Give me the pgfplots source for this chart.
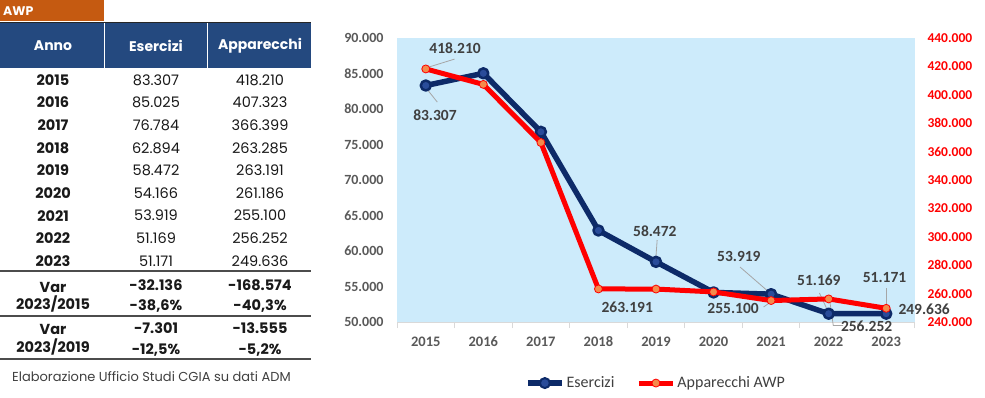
\documentclass[border=0pt]{standalone}
\usepackage{pgfplots}
\pgfplotsset{compat=1.18}
\usepackage{fontspec}
\setmainfont{Poppins}
\newfontfamily\calibri{Carlito}
\definecolor{navy}{HTML}{0D2A68}
\definecolor{navyin}{HTML}{2A4C9A}
\definecolor{orgmk}{HTML}{F58A4B}
\definecolor{plotbg}{HTML}{CDEBFB}
\definecolor{axgray}{HTML}{D9D9D9}
\definecolor{tkgray}{HTML}{595959}
\definecolor{lblgray}{HTML}{404040}
\definecolor{leader}{HTML}{A6A6A6}
\definecolor{tab}{HTML}{C55A11}
\definecolor{hdr}{HTML}{24497F}
\begin{document}
\begin{tikzpicture}
\useasboundingbox (0,0) rectangle (985pt,397pt);
\fill[white] (0,0) rectangle (985pt,397pt);
% ---------------- table ----------------
\begin{scope}[x=1pt,y=-1pt,shift={(0pt,397pt)}]
\fill[tab] (0,0) rectangle (104,21);
\node[anchor=west,text=white,font=\fontsize{12.5}{14}\selectfont\bfseries,inner sep=0] at (3,11.5) {AWP};
\fill[hdr] (0,22) rectangle (311,68);
\draw[line width=1.5pt,black!85] (0,22.5) -- (311,22.5);
\draw[white,line width=1pt] (104,23) -- (104,68);
\draw[white,line width=1pt] (207,23) -- (207,68);
\begin{scope}[every node/.style={font=\fontsize{14}{16}\selectfont\bfseries,text=white,inner sep=0}]
\node at (53,46) {Anno};
\node at (156,46) {Esercizi};
\node at (260,46) {Apparecchi};
\end{scope}
\begin{scope}[every node/.style={font=\fontsize{14.5}{16}\selectfont,text=black!90,inner sep=0}]
\foreach \yr/\e/\a [count=\i from 0] in {2015/83.307/418.210,2016/85.025/407.323,2017/76.784/366.399,2018/62.894/263.285,2019/58.472/263.191,2020/54.166/261.186,2021/53.919/255.100,2022/51.169/256.252,2023/51.171/249.636}{
  \node[font=\fontsize{14.5}{16}\selectfont\bfseries] at (53,{80+22.6*\i}) {\yr};
  \node at (156,{80+22.6*\i}) {\e};
  \node at (260,{80+22.6*\i}) {\a};
}
\end{scope}
\draw[line width=1.5pt,black!70] (0,271) -- (311,271);
\draw[line width=1.5pt,black!70] (0,316) -- (311,316);
\draw[line width=1.5pt,black!70] (0,359) -- (311,359);
\begin{scope}[every node/.style={font=\fontsize{14.5}{16}\selectfont\bfseries,text=black!90,inner sep=0}]
\node at (53,287) {Var};
\node at (53,304) {2023/2015};
\node at (156,285) {-32.136};
\node at (260,285) {-168.574};
\node at (156,306) {-38,6\%};
\node at (260,306) {-40,3\%};
\node at (53,329) {Var};
\node at (53,347) {2023/2019};
\node at (156,328) {-7.301};
\node at (260,328) {-13.555};
\node at (156,350) {-12,5\%};
\node at (260,350) {-5,2\%};
\end{scope}
\node[anchor=west,inner sep=0,font=\fontsize{13}{15}\selectfont,text=lblgray] at (12,377) {Elaborazione Ufficio Studi CGIA su dati ADM};
\end{scope}
% ---------------- chart ----------------
\pgfplotsset{
  base/.style={at={(397pt,75pt)}, anchor=south west, scale only axis, width=518pt, height=284pt,
    xmin=2014.5, xmax=2023.5, clip=false, scaled y ticks=false, scaled x ticks=false,
    /pgf/number format/assume math mode=true},
}
\begin{axis}[base,
  ymin=50000, ymax=90000,
  xtick={2015,...,2023}, minor xtick={2014.5,2015.5,...,2023.5},
  ytick={50000,55000,...,90000},
  axis background/.style={fill=plotbg},
  axis x line*=bottom, axis y line*=left,
  x axis line style={draw=axgray,line width=1pt,-},
  y axis line style={draw=none},
  major tick length=0pt, minor tick length=6pt, tick align=outside,
  minor x tick style={draw=axgray,line width=1pt},
  ytick style={draw=none},
  xticklabel style={font=\fontsize{14.5}{16}\calibri\bfseries,text=tkgray,/pgf/number format/fixed,/pgf/number format/1000 sep={},yshift=-11pt},
  yticklabel style={font=\fontsize{14}{15}\calibri\bfseries,text=tkgray,/pgf/number format/fixed,/pgf/number format/1000 sep={.},xshift=-10pt},
]
\addplot[navy,line width=5.5pt,line join=round,mark=*,mark size=5pt,mark options={fill=navyin,draw=navy,line width=2.5pt}]
 coordinates {(2015,83307)(2016,85025)(2017,76784)(2018,62894)(2019,58472)(2020,54166)(2021,53919)(2022,51169)(2023,51171)};
% leader lines
\begin{scope}[leader,line width=0.8pt]
\draw (axis cs:2015.05,85900) -- (axis cs:2015.5,87030);
\draw (axis cs:2015.03,82700) -- (axis cs:2015.2,80976);
\draw (axis cs:2019,59300) -- (axis cs:2019.02,61546);
\draw (axis cs:2020.95,54300) -- (axis cs:2020.46,57744);
\draw (axis cs:2020.87,52112) -- (axis cs:2020.97,52700);
\draw (axis cs:2021.96,52000) -- (axis cs:2021.84,54083);
\draw (axis cs:2022.02,52900) -- (axis cs:2022.08,49500) -- (axis cs:2022.25,49500);
\draw (axis cs:2023,54787) -- (axis cs:2023,52400);
\end{scope}
\begin{scope}[every node/.style={font=\fontsize{15.5}{17}\calibri\bfseries,text=lblgray,inner sep=0}]
\node at (axis cs:2015.51,88580) {418.210};
\node at (axis cs:2015.16,79146) {83.307};
\node at (axis cs:2018.98,62813) {58.472};
\node at (axis cs:2018.50,52112) {263.191};
\node at (axis cs:2020.44,59293) {53.919};
\node at (axis cs:2020.34,51971) {255.100};
\node at (axis cs:2021.83,55914) {51.169};
\node at (axis cs:2022.66,49420) {256.252};
\node at (axis cs:2022.97,56195) {51.171};
\node[anchor=west] at (axis cs:2023.21,51830) {249.636};
\end{scope}
\end{axis}
\begin{axis}[base,
  ymin=240000, ymax=440000,
  ytick={240000,260000,...,440000}, xtick=\empty,
  axis y line*=right, axis x line=none,
  y axis line style={draw=none}, ytick style={draw=none},
  yticklabel style={font=\fontsize{13.5}{15}\calibri\bfseries,text=red,/pgf/number format/fixed,/pgf/number format/1000 sep={.},xshift=9pt},
  legend style={at={(0.5,-0.215)},anchor=center,draw=none,fill=none,
    font=\fontsize{16}{18}\calibri,text=lblgray,legend columns=2,
    /tikz/every even column/.append style={column sep=20pt}},
  legend image code/.code={\draw[mark repeat=2,mark phase=2,#1] plot coordinates {(0pt,0pt) (17pt,0pt) (34pt,0pt)};},
]
\addlegendimage{navy,line width=5.5pt,mark=*,mark size=5pt,mark options={fill=navyin,draw=navy,line width=2pt}}
\addlegendentry{Esercizi}
\addplot[red,line width=5pt,line join=round,mark=*,mark size=4pt,mark options={fill=orgmk,draw=red,line width=0.8pt}]
 coordinates {(2015,418210)(2016,407323)(2017,366399)(2018,263285)(2019,263191)(2020,261186)(2021,255100)(2022,256252)(2023,249636)};
\addlegendentry{Apparecchi AWP}
\end{axis}
\end{tikzpicture}
\end{document}
